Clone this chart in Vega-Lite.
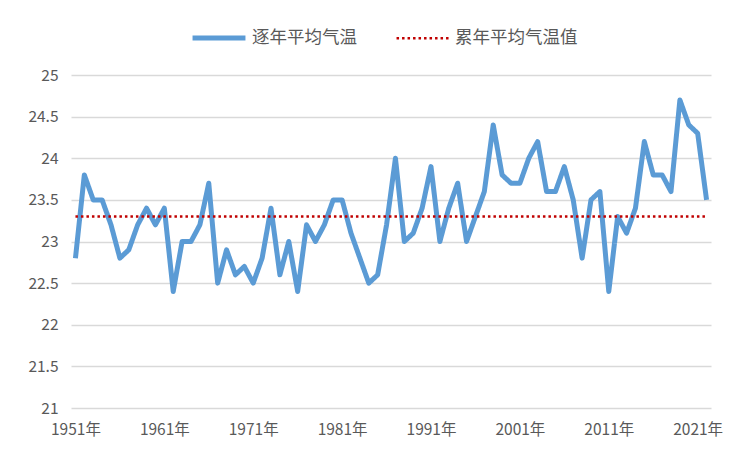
{
  "$schema": "https://vega.github.io/schema/vega-lite/v6.json",
  "autosize": {"type": "none"},
  "padding": {"left": 71, "top": 75, "right": 38, "bottom": 49},
  "width": 640,
  "height": 333,
  "background": "#ffffff",
  "config": {
    "view": {"stroke": null},
    "font": "Noto Sans CJK SC",
    "axis": {"labelColor": "#595959", "labelFontSize": 15.5, "labelFont": "Noto Sans CJK SC"}
  },
  "data": {
    "values": [
      {"year": 1951, "series": "逐年平均气温", "value": 22.8},
      {"year": 1952, "series": "逐年平均气温", "value": 23.8},
      {"year": 1953, "series": "逐年平均气温", "value": 23.5},
      {"year": 1954, "series": "逐年平均气温", "value": 23.5},
      {"year": 1955, "series": "逐年平均气温", "value": 23.2},
      {"year": 1956, "series": "逐年平均气温", "value": 22.8},
      {"year": 1957, "series": "逐年平均气温", "value": 22.9},
      {"year": 1958, "series": "逐年平均气温", "value": 23.2},
      {"year": 1959, "series": "逐年平均气温", "value": 23.4},
      {"year": 1960, "series": "逐年平均气温", "value": 23.2},
      {"year": 1961, "series": "逐年平均气温", "value": 23.4},
      {"year": 1962, "series": "逐年平均气温", "value": 22.4},
      {"year": 1963, "series": "逐年平均气温", "value": 23.0},
      {"year": 1964, "series": "逐年平均气温", "value": 23.0},
      {"year": 1965, "series": "逐年平均气温", "value": 23.2},
      {"year": 1966, "series": "逐年平均气温", "value": 23.7},
      {"year": 1967, "series": "逐年平均气温", "value": 22.5},
      {"year": 1968, "series": "逐年平均气温", "value": 22.9},
      {"year": 1969, "series": "逐年平均气温", "value": 22.6},
      {"year": 1970, "series": "逐年平均气温", "value": 22.7},
      {"year": 1971, "series": "逐年平均气温", "value": 22.5},
      {"year": 1972, "series": "逐年平均气温", "value": 22.8},
      {"year": 1973, "series": "逐年平均气温", "value": 23.4},
      {"year": 1974, "series": "逐年平均气温", "value": 22.6},
      {"year": 1975, "series": "逐年平均气温", "value": 23.0},
      {"year": 1976, "series": "逐年平均气温", "value": 22.4},
      {"year": 1977, "series": "逐年平均气温", "value": 23.2},
      {"year": 1978, "series": "逐年平均气温", "value": 23.0},
      {"year": 1979, "series": "逐年平均气温", "value": 23.2},
      {"year": 1980, "series": "逐年平均气温", "value": 23.5},
      {"year": 1981, "series": "逐年平均气温", "value": 23.5},
      {"year": 1982, "series": "逐年平均气温", "value": 23.1},
      {"year": 1983, "series": "逐年平均气温", "value": 22.8},
      {"year": 1984, "series": "逐年平均气温", "value": 22.5},
      {"year": 1985, "series": "逐年平均气温", "value": 22.6},
      {"year": 1986, "series": "逐年平均气温", "value": 23.2},
      {"year": 1987, "series": "逐年平均气温", "value": 24.0},
      {"year": 1988, "series": "逐年平均气温", "value": 23.0},
      {"year": 1989, "series": "逐年平均气温", "value": 23.1},
      {"year": 1990, "series": "逐年平均气温", "value": 23.4},
      {"year": 1991, "series": "逐年平均气温", "value": 23.9},
      {"year": 1992, "series": "逐年平均气温", "value": 23.0},
      {"year": 1993, "series": "逐年平均气温", "value": 23.4},
      {"year": 1994, "series": "逐年平均气温", "value": 23.7},
      {"year": 1995, "series": "逐年平均气温", "value": 23.0},
      {"year": 1996, "series": "逐年平均气温", "value": 23.3},
      {"year": 1997, "series": "逐年平均气温", "value": 23.6},
      {"year": 1998, "series": "逐年平均气温", "value": 24.4},
      {"year": 1999, "series": "逐年平均气温", "value": 23.8},
      {"year": 2000, "series": "逐年平均气温", "value": 23.7},
      {"year": 2001, "series": "逐年平均气温", "value": 23.7},
      {"year": 2002, "series": "逐年平均气温", "value": 24.0},
      {"year": 2003, "series": "逐年平均气温", "value": 24.2},
      {"year": 2004, "series": "逐年平均气温", "value": 23.6},
      {"year": 2005, "series": "逐年平均气温", "value": 23.6},
      {"year": 2006, "series": "逐年平均气温", "value": 23.9},
      {"year": 2007, "series": "逐年平均气温", "value": 23.5},
      {"year": 2008, "series": "逐年平均气温", "value": 22.8},
      {"year": 2009, "series": "逐年平均气温", "value": 23.5},
      {"year": 2010, "series": "逐年平均气温", "value": 23.6},
      {"year": 2011, "series": "逐年平均气温", "value": 22.4},
      {"year": 2012, "series": "逐年平均气温", "value": 23.3},
      {"year": 2013, "series": "逐年平均气温", "value": 23.1},
      {"year": 2014, "series": "逐年平均气温", "value": 23.4},
      {"year": 2015, "series": "逐年平均气温", "value": 24.2},
      {"year": 2016, "series": "逐年平均气温", "value": 23.8},
      {"year": 2017, "series": "逐年平均气温", "value": 23.8},
      {"year": 2018, "series": "逐年平均气温", "value": 23.6},
      {"year": 2019, "series": "逐年平均气温", "value": 24.7},
      {"year": 2020, "series": "逐年平均气温", "value": 24.4},
      {"year": 2021, "series": "逐年平均气温", "value": 24.3},
      {"year": 2022, "series": "逐年平均气温", "value": 23.5},
      {"year": 1951, "series": "累年平均气温值", "value": 23.3},
      {"year": 2022, "series": "累年平均气温值", "value": 23.3}
    ]
  },
  "mark": {"type": "line", "strokeJoin": "round", "strokeCap": "butt"},
  "encoding": {
    "x": {
      "field": "year",
      "type": "quantitative",
      "scale": {"domain": [1950.5, 2022.5], "nice": false, "zero": false},
      "axis": {
        "title": null,
        "values": [1951, 1961, 1971, 1981, 1991, 2001, 2011, 2021],
        "labelExpr": "datum.value + '年'",
        "grid": false,
        "domain": false,
        "ticks": false,
        "labelPadding": 14,
        "labelFlush": false,
        "labelOverlap": false
      }
    },
    "y": {
      "field": "value",
      "type": "quantitative",
      "scale": {"domain": [21, 25], "nice": false, "zero": false},
      "axis": {
        "title": null,
        "values": [21, 21.5, 22, 22.5, 23, 23.5, 24, 24.5, 25],
        "format": "~g",
        "grid": true,
        "gridColor": "#d9d9d9",
        "gridWidth": 1.5,
        "domain": false,
        "ticks": false,
        "labelPadding": 13
      }
    },
    "color": {
      "field": "series",
      "type": "nominal",
      "scale": {"domain": ["逐年平均气温", "累年平均气温值"], "range": ["#5b9bd5", "#c00000"]},
      "legend": {
        "title": null,
        "orient": "none",
        "legendX": 119,
        "legendY": -66,
        "direction": "horizontal",
        "symbolType": "stroke",
        "symbolSize": 2800,
        "labelFontSize": 17.5,
        "labelColor": "#595959",
        "labelFont": "Noto Sans CJK SC",
        "labelOffset": 4,
        "columnPadding": 34
      }
    },
    "strokeDash": {
      "field": "series",
      "type": "nominal",
      "scale": {"domain": ["逐年平均气温", "累年平均气温值"], "range": [[1, 0], [2.5, 3]]},
      "legend": {
        "title": null,
        "orient": "none",
        "legendX": 119,
        "legendY": -66,
        "direction": "horizontal",
        "symbolType": "stroke",
        "symbolSize": 2800,
        "labelFontSize": 17.5,
        "labelColor": "#595959",
        "labelFont": "Noto Sans CJK SC",
        "labelOffset": 4,
        "columnPadding": 34
      }
    },
    "strokeWidth": {
      "field": "series",
      "type": "nominal",
      "scale": {"domain": ["逐年平均气温", "累年平均气温值"], "range": [5, 2.5]},
      "legend": {
        "title": null,
        "orient": "none",
        "legendX": 119,
        "legendY": -66,
        "direction": "horizontal",
        "symbolType": "stroke",
        "symbolSize": 2800,
        "labelFontSize": 17.5,
        "labelColor": "#595959",
        "labelFont": "Noto Sans CJK SC",
        "labelOffset": 4,
        "columnPadding": 34
      }
    }
  }
}
